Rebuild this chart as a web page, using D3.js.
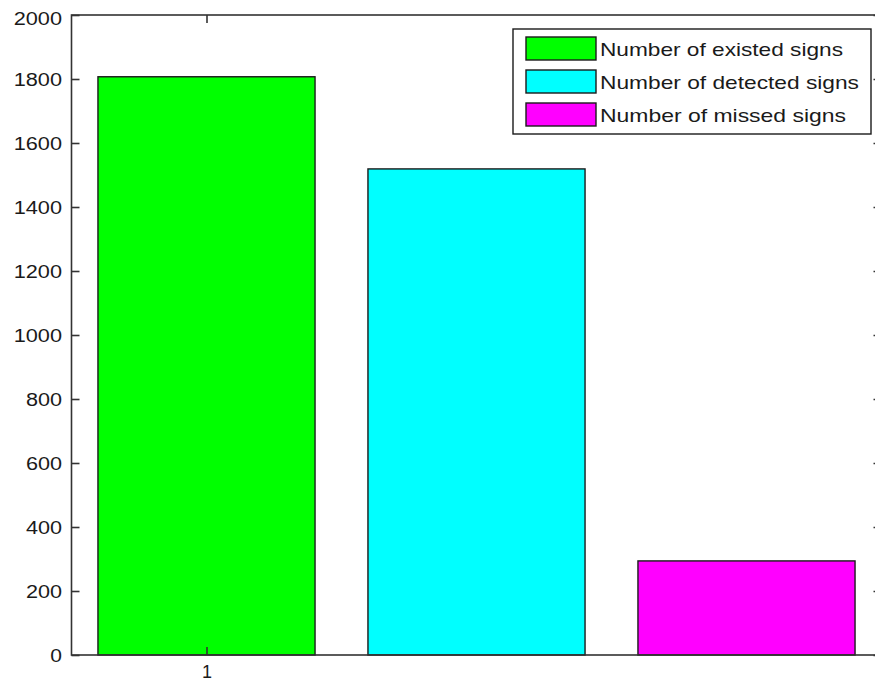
<!DOCTYPE html>
<html><head><meta charset="utf-8">
<script src="https://cdn.jsdelivr.net/npm/d3@7"></script>
<style>body{margin:0;background:#fff}svg{display:block}</style>
</head><body>
<svg id="c" width="875" height="686"></svg>
<script>
const series = ["Number of existed signs","Number of detected signs","Number of missed signs"];
const values = [1807, 1519, 294];
const colors = ["#00ff00","#00ffff","#ff00ff"];
const positions = [1, 2, 3];
const yTicks = [0,200,400,600,800,1000,1200,1400,1600,1800,2000];
const xTicks = [1];

const svg = d3.select("#c");
const L = 71.5, R = 881.5, T = 15, B = 655;
const x = d3.scaleLinear().domain([0.5, 3.5]).range([L, R]);
const y = d3.scaleLinear().domain([0, 2000]).range([B, T]);
const font = "'Liberation Sans', Arial, sans-serif";
const ink = "#1a1a1a";

// bars
const bw = 0.804;
svg.append("g").selectAll("rect").data(values).join("rect")
  .attr("x", (d,i) => x(positions[i] - bw/2))
  .attr("width", (d,i) => x(positions[i] + bw/2) - x(positions[i] - bw/2))
  .attr("y", d => y(d))
  .attr("height", d => y(0) - y(d))
  .attr("fill", (d,i) => colors[i])
  .attr("stroke", "#1a1a1a").attr("stroke-width", 1.4);

// box
svg.append("rect").attr("x", L).attr("y", T).attr("width", R - L).attr("height", B - T)
  .attr("fill", "none").attr("stroke", "#333").attr("stroke-width", 1.6);

// left axis
const ya = d3.axisLeft(y).tickValues(yTicks).tickSize(-8).tickPadding(9.5).tickFormat(d3.format("d"));
const gy = svg.append("g").attr("transform", `translate(${L},0)`).call(ya);
gy.select(".domain").remove();
gy.selectAll("line").attr("stroke", "#333").attr("stroke-width", 1.6);
gy.selectAll("text").attr("font-family", font).attr("font-size", 18).attr("fill", ink)
  .each(function(d){ const n = String(d).length; d3.select(this).attr("textLength", n * 12.2 - 0.5).attr("lengthAdjust", "spacingAndGlyphs"); })
  .attr("dy", (d) => d === 2000 ? "0.5em" : "0.34em");

// right axis ticks
const yr = d3.axisRight(y).tickValues(yTicks).tickSize(-8).tickFormat("");
const gr = svg.append("g").attr("transform", `translate(${R},0)`).call(yr);
gr.select(".domain").remove();
gr.selectAll("line").attr("stroke", "#333").attr("stroke-width", 1.6);

// bottom axis
const xa = d3.axisBottom(x).tickValues(xTicks).tickSize(-8).tickPadding(10).tickFormat(d3.format("d"));
const gx = svg.append("g").attr("transform", `translate(0,${B})`).call(xa);
gx.select(".domain").remove();
gx.selectAll("line").attr("stroke", "#333").attr("stroke-width", 1.6);
gx.selectAll("text").attr("font-family", font).attr("font-size", 18).attr("fill", ink);

// top axis ticks
const xt = d3.axisTop(x).tickValues(xTicks).tickSize(-8).tickFormat("");
const gt = svg.append("g").attr("transform", `translate(0,${T})`).call(xt);
gt.select(".domain").remove();
gt.selectAll("line").attr("stroke", "#333").attr("stroke-width", 1.6);

// legend
const legendWidths = [243, 259, 246];
const lg = svg.append("g");
lg.append("rect").attr("x", 513).attr("y", 29).attr("width", 358).attr("height", 105)
  .attr("fill", "#fff").attr("stroke", "#1a1a1a").attr("stroke-width", 1.4);
series.forEach((s, i) => {
  const yy = 37 + i * 33;
  lg.append("rect").attr("x", 526).attr("y", yy).attr("width", 70).attr("height", 23)
    .attr("fill", colors[i]).attr("stroke", "#1a1a1a").attr("stroke-width", 1.4);
  lg.append("text").attr("x", 600).attr("y", yy + 18.5).text(s)
    .attr("font-family", font).attr("font-size", 19).attr("fill", ink)
    .attr("textLength", legendWidths[i]).attr("lengthAdjust", "spacingAndGlyphs");
});
</script>
</body></html>
